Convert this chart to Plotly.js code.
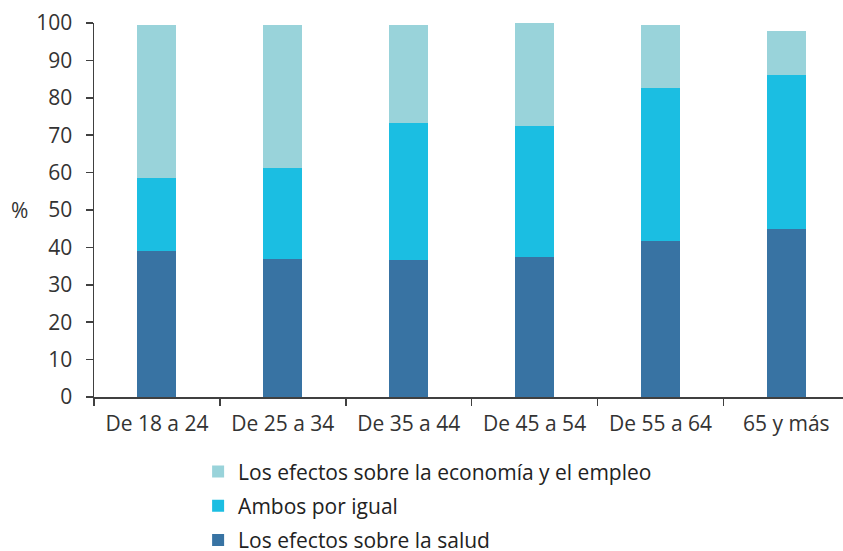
<!DOCTYPE html>
<html><head><meta charset="utf-8">
<script src="https://cdn.plot.ly/plotly-3.0.1.min.js"></script>
<style>html,body{margin:0;padding:0;background:#fff}#chart{width:843px;height:551px}</style>
</head><body><div id="chart"></div>
<script>
const categories = ["De 18 a 24","De 25 a 34","De 35 a 44","De 45 a 54","De 55 a 64","65 y más"];
const salud = [39.0, 36.9, 36.6, 37.4, 41.8, 44.9];
const ambos = [19.6, 24.4, 36.6, 35.1, 40.7, 41.2];
const economia = [41.0, 38.1, 26.4, 27.4, 17.1, 11.7];
const yTicks = [0,10,20,30,40,50,60,70,80,90,100];

const mk = (name, y, color, rank) => ({
  type: 'bar', name, x: categories, y, width: 0.31, legendgroup: name, legendrank: rank,
  marker: {color, line: {width: 0}}, hoverinfo: 'skip'
});
const data = [
  mk('Los efectos sobre la salud', salud, '#3873A3', 3),
  mk('Ambos por igual', ambos, '#1BBEE2', 2),
  mk('Los efectos sobre la economía y el empleo', economia, '#99D3DA', 1)
];
const layout = {
  width: 843, height: 551, barmode: 'stack', showlegend: true,
  paper_bgcolor: '#fff', plot_bgcolor: '#fff',
  margin: {l: 94, r: 0, t: 23, b: 154},
  font: {family: 'Open Sans, sans-serif', color: '#333333', size: 21},
  xaxis: {
    range: [-0.5, 5.45], showline: true, linecolor: '#404040', linewidth: 1.5,
    ticks: 'outside', ticklen: 7, tickcolor: '#404040', tickwidth: 1.5,
    tickson: 'boundaries', showgrid: false, zeroline: false,
    tickfont: {size: 21, color: '#333'}, ticklabelstandoff: 7
  },
  yaxis: {
    range: [0, 100], tickvals: yTicks, showline: true, linecolor: '#404040', linewidth: 1.5,
    ticks: 'outside', ticklen: 7, tickcolor: '#404040', tickwidth: 1.5,
    showgrid: false, zeroline: false, tickfont: {size: 21, color: '#333'},
    ticklabelstandoff: 9
  },
  legend: {
    x: 0.139, xref: 'paper', y: 0.181, yref: 'container', xanchor: 'left', yanchor: 'top',
    traceorder: 'grouped', tracegroupgap: 4,
    font: {size: 21, color: '#222'}, bgcolor: 'rgba(0,0,0,0)'
  },
  annotations: [{
    text: '%', xref: 'paper', yref: 'paper', x: -0.099, y: 0.5,
    xanchor: 'center', yanchor: 'middle', showarrow: false, font: {size: 21, color: '#333'}
  }]
};
Plotly.newPlot('chart', data, layout, {displayModeBar: false, staticPlot: true});
</script></body></html>
